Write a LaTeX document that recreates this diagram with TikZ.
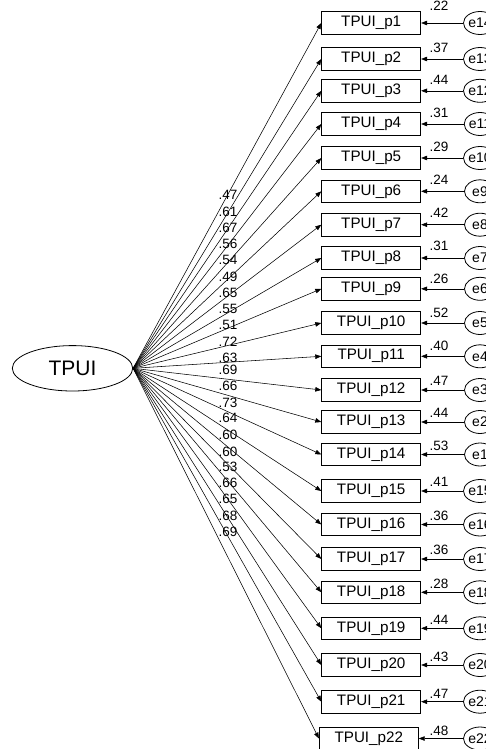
\documentclass[tikz,border=0pt]{standalone}
\usepackage{fontspec}
\setmainfont{Liberation Sans}
\usetikzlibrary{arrows.meta,shapes.geometric}
\begin{document}
\begin{tikzpicture}[x=1pt,y=-1pt,
  obs/.style={draw, line width=0.8pt, minimum width=99pt, minimum height=22.5pt, inner sep=0pt, font=\fontsize{15.2}{15.2}\selectfont},
  errv/.style={draw, ellipse, line width=0.8pt, minimum width=31pt, minimum height=23pt, inner sep=0pt, font=\fontsize{14}{14}\selectfont},
  lat/.style={draw, ellipse, line width=0.8pt, minimum width=120.4pt, minimum height=45.4pt, inner sep=0pt, font=\fontsize{21}{21}\selectfont},
  pth/.style={-{Triangle[length=6pt,width=4.5pt]}, line width=0.55pt},
  lab/.style={font=\fontsize{13.5}{13.5}\selectfont, inner sep=0pt, anchor=west}
]
\clip (0,0) rectangle (486,749);
\node[lat] (F) at (72.5,368.3) {TPUI};
\foreach \i/\bx/\y/\l/\ly/\en/\r/\ry in {
1/371.2/23/.47/195/14/.22/6,
2/371.2/59/.61/211.7/13/.37/48,
3/371.2/90.8/.67/228.3/12/.44/80,
4/371.2/124/.56/244.3/11/.31/113,
5/371.2/158/.54/260/10/.29/147,
6/371.2/191.3/.49/276.7/9/.24/180,
7/371.2/224.7/.65/293.3/8/.42/213,
8/371.2/258/.55/309/7/.31/246,
9/371.2/288.8/.51/325/6/.26/279,
10/371.2/323/.72/341.7/5/.52/313,
11/371.2/356.3/.63/357.7/4/.40/346,
12/371.2/390/.69/370/3/.47/381,
13/371.2/422/.66/386/2/.44/413,
14/371.2/454.5/.73/402.7/1/.53/445.5,
15/371.2/491/.64/418.3/15/.41/482,
16/371.2/524.5/.60/435/16/.36/515.5,
17/371.2/559/.60/451.7/17/.36/549.5,
18/371.2/592.3/.53/467.3/18/.28/583.5,
19/371.2/628.3/.66/483.3/19/.44/620,
20/371.2/665/.65/499.3/20/.43/656.5,
21/371.2/701.7/.68/515.7/21/.47/694,
22/368.8/738.5/.69/532.3/22/.48/731}{
  \node[obs] (b\i) at (\bx,\y) {TPUI\_p\i};
  \node[errv] (e\i) at (480,\y) {e\en};
  \draw[pth] (F.east) -- (b\i.west);
  \draw[pth] (e\i.west) -- (b\i.east);
  \node[lab] (L\i) at (218.5,\ly) {\l};
  \node[lab] (R\i) at (429.5,\ry) {\r};
}
\end{tikzpicture}
\end{document}
